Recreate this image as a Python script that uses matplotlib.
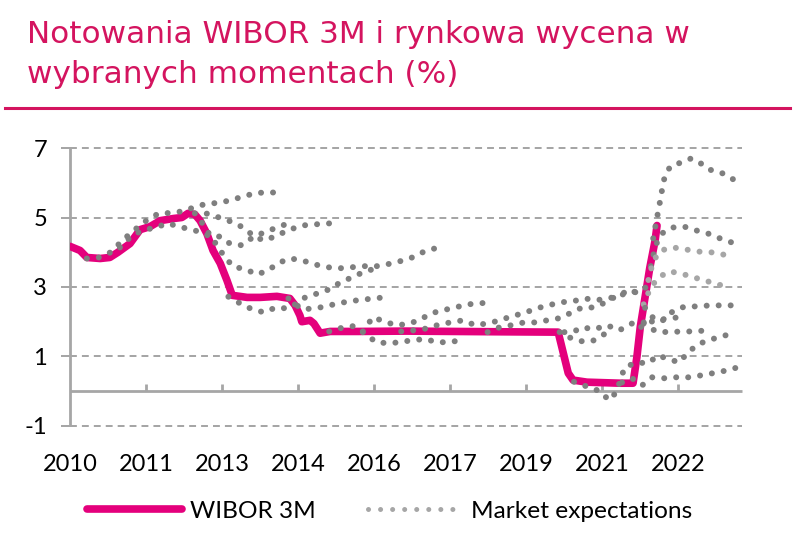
import numpy as np
import matplotlib.pyplot as plt
from matplotlib.lines import Line2D

plt.rcParams['font.family'] = ['Lato', 'DejaVu Sans']

# WIBOR 3M (decimal years, %)
wibor_x = [2010.0, 2010.21, 2010.35, 2010.63, 2010.83, 2011.0, 2011.25, 2011.46, 2011.67,
           2011.88, 2012.15, 2012.33, 2012.46, 2012.6, 2012.71, 2012.85, 2012.98, 2013.13,
           2013.27, 2013.38, 2013.69, 2013.96, 2014.31, 2014.58, 2014.69, 2014.79, 2014.83,
           2015.0, 2015.08, 2015.21, 2015.42, 2016.0, 2017.0, 2018.0, 2019.0, 2020.17,
           2020.38, 2020.48, 2020.77, 2021.46, 2021.73, 2021.81, 2021.88, 2021.98, 2022.08,
           2022.19, 2022.23]
wibor_y = [4.17, 4.05, 3.85, 3.82, 3.85, 4.0, 4.25, 4.65, 4.74,
           4.91, 4.97, 5.0, 5.12, 5.09, 4.91, 4.54, 4.05, 3.68,
           3.19, 2.76, 2.70, 2.70, 2.73, 2.67, 2.47, 2.18, 2.0,
           2.04, 1.95, 1.67, 1.72, 1.72, 1.73, 1.72, 1.71, 1.70,
           0.52, 0.32, 0.26, 0.23, 0.23, 0.98, 1.84, 2.70, 3.56,
           4.34, 4.77]

# market expectations at selected moments (decimal years, %)
exp_a_x = [2010.35, 2010.6, 2010.85, 2011.1, 2011.35, 2011.6, 2011.85, 2012.1, 2012.35,
           2012.6, 2012.85, 2013.1, 2013.35, 2013.6, 2013.85, 2014.05, 2014.3]
exp_a_y = [3.82, 3.85, 4.0, 4.35, 4.65, 4.92, 5.12, 5.13, 5.18,
           5.3, 5.4, 5.42, 5.5, 5.6, 5.7, 5.72, 5.72]
exp_b_x = [2012.6, 2012.88, 2013.17, 2013.4, 2013.65, 2013.85, 2014.06, 2014.31, 2014.54,
           2014.83, 2015.08, 2015.38, 2015.63]
exp_b_y = [5.12, 5.11, 4.97, 4.86, 4.68, 4.43, 4.34, 4.48, 4.63,
           4.77, 4.8, 4.83, 4.83]
exp_c_x = [2011.04, 2011.29, 2011.52, 2011.77, 2012.04, 2012.35, 2012.6, 2012.88, 2013.13,
           2013.33, 2013.58, 2013.81, 2014.04, 2014.31, 2014.54]
exp_c_y = [4.14, 4.48, 4.63, 4.71, 4.83, 4.71, 4.63, 4.48, 4.45,
           4.25, 4.2, 4.43, 4.57, 4.71, 4.83]
exp_d_x = [2012.75, 2012.88, 2013.06, 2013.23, 2013.4, 2013.67, 2013.9, 2014.13, 2014.35,
           2014.6, 2014.85, 2015.1, 2015.35, 2015.63, 2015.88, 2016.15, 2016.4, 2016.6,
           2016.85, 2017.13, 2017.35, 2017.6]
exp_d_y = [4.85, 4.57, 4.2, 3.85, 3.59, 3.5, 3.36, 3.48, 3.7,
           3.82, 3.76, 3.65, 3.57, 3.54, 3.57, 3.6, 3.6, 3.65,
           3.73, 3.85, 4.0, 4.11]
exp_e_x = [2013.3, 2013.54, 2013.79, 2014.04, 2014.29, 2014.54, 2014.75, 2014.9, 2015.17,
           2015.4, 2015.63, 2015.88, 2016.1, 2016.35]
exp_e_y = [2.72, 2.53, 2.36, 2.27, 2.41, 2.38, 2.55, 2.70, 2.82,
           2.93, 3.13, 3.28, 3.42, 3.53]
exp_f_x = [2014.55, 2014.83, 2015.08, 2015.33, 2015.58, 2015.85, 2016.1, 2016.38, 2016.63]
exp_f_y = [2.67, 2.36, 2.38, 2.44, 2.53, 2.59, 2.64, 2.67, 2.73]
exp_g_x = [2015.4, 2015.65, 2015.88, 2016.13]
exp_g_y = [1.72, 1.82, 1.87, 1.9]
exp_h_x = [2016.1, 2016.31, 2016.54, 2016.79, 2017.02, 2017.27, 2017.52, 2017.77, 2018.02,
           2018.29, 2018.54, 2018.79]
exp_h_y = [1.72, 2.13, 2.01, 1.9, 1.93, 2.04, 2.24, 2.33, 2.41,
           2.5, 2.53, 2.56]
exp_i_x = [2016.1, 2016.38, 2016.63, 2016.88, 2017.13, 2017.4, 2017.65, 2017.9, 2018.15]
exp_i_y = [1.7, 1.41, 1.38, 1.41, 1.47, 1.5, 1.41, 1.41, 1.47]
exp_j_x = [2016.9, 2017.15, 2017.4, 2017.65, 2017.92, 2018.19, 2018.44, 2018.69, 2018.96,
           2019.2, 2019.44, 2019.71, 2019.96, 2020.23, 2020.48, 2020.73, 2020.94, 2021.15,
           2021.4, 2021.63, 2021.88, 2022.08]
exp_j_y = [1.72, 1.75, 1.8, 1.9, 1.98, 2.04, 1.9, 1.95, 2.04,
           2.16, 2.24, 2.38, 2.47, 2.56, 2.59, 2.67, 2.62, 2.65,
           2.73, 2.84, 2.88, 3.07]
exp_k_x = [2018.7, 2018.95, 2019.2, 2019.46, 2019.69, 2019.94, 2020.19, 2020.46, 2020.67,
           2020.9, 2021.17, 2021.44, 2021.69, 2021.88]
exp_k_y = [1.7, 1.84, 1.9, 1.98, 1.98, 2.04, 2.1, 2.27, 2.41,
           2.41, 2.56, 2.79, 2.9, 2.79]
exp_l_x = [2020.3, 2020.5, 2020.67, 2020.92, 2021.19, 2021.44, 2021.71, 2021.96]
exp_l_y = [1.7, 1.72, 1.84, 1.78, 1.9, 1.75, 1.95, 1.98]
exp_m_x = [2020.2, 2020.4, 2020.63, 2020.88, 2021.1, 2021.3]
exp_m_y = [1.7, 1.55, 1.44, 1.44, 1.62, 1.75]
exp_n_x = [2022.15, 2022.23, 2022.27, 2022.31, 2022.35, 2022.4, 2022.52, 2022.73, 2022.94,
           2023.12, 2023.31, 2023.52, 2023.73, 2023.92]
exp_n_y = [4.4, 5.0, 5.29, 5.6, 5.92, 6.24, 6.49, 6.58, 6.70,
           6.58, 6.38, 6.32, 6.18, 6.0]
exp_o_x = [2022.1, 2022.2, 2022.33, 2022.54, 2022.79, 2023.04, 2023.29, 2023.54, 2023.79]
exp_o_y = [3.6, 4.2, 4.54, 4.71, 4.74, 4.63, 4.54, 4.40, 4.28]
exp_p_x = [2022.05, 2022.15, 2022.31, 2022.56, 2022.83, 2023.08, 2023.35, 2023.6, 2023.83]
exp_p_y = [3.2, 3.75, 4.05, 4.14, 4.08, 4.02, 4.0, 3.94, 3.79]
exp_q_x = [2021.95, 2022.1, 2022.27, 2022.48, 2022.73, 2022.98, 2023.23, 2023.48, 2023.75]
exp_q_y = [2.5, 3.0, 3.28, 3.45, 3.39, 3.28, 3.19, 3.07, 3.02]
exp_r_x = [2021.98, 2022.19, 2022.35, 2022.56, 2022.81, 2023.08, 2023.33, 2023.6, 2023.85]
exp_r_y = [2.4, 2.04, 2.04, 2.3, 2.44, 2.44, 2.47, 2.47, 2.47]
exp_s_x = [2021.9, 2022.1, 2022.25, 2022.46, 2022.75]
exp_s_y = [1.85, 2.0, 2.04, 2.1, 2.13]
exp_t_x = [2021.95, 2022.21, 2022.46, 2022.75, 2022.98, 2023.27]
exp_t_y = [1.95, 1.72, 1.70, 1.72, 1.72, 1.75]
exp_u_x = [2020.5, 2020.8, 2021.04, 2021.23, 2021.4, 2021.46, 2021.56, 2021.81, 2022.04,
           2022.25, 2022.48, 2022.69, 2022.88, 2023.08, 2023.31, 2023.58, 2023.83]
exp_u_y = [0.27, 0.12, 0.0, -0.26, 0.0, 0.32, 0.69, 0.83, 0.8,
           1.03, 0.92, 0.83, 1.12, 1.35, 1.47, 1.58, 1.67]
exp_v_x = [2021.5, 2021.71, 2021.92, 2022.13, 2022.35, 2022.63, 2022.88, 2023.17, 2023.4,
           2023.69, 2023.92]
exp_v_y = [0.25, 0.37, 0.17, 0.4, 0.37, 0.4, 0.4, 0.46, 0.52,
           0.6, 0.69]

tick_labels = ['2010', '2011', '2013', '2014', '2016', '2017', '2019', '2021', '2022']
y_ticks = [-1, 1, 3, 5, 7]

pink = '#E4007C'
title_pink = '#D4145F'
dark = '#7F7F7F'
light = '#A6A6A6'

expectations = [
    (exp_a_x, exp_a_y, dark), (exp_b_x, exp_b_y, dark), (exp_c_x, exp_c_y, dark),
    (exp_d_x, exp_d_y, dark), (exp_e_x, exp_e_y, dark), (exp_f_x, exp_f_y, dark),
    (exp_g_x, exp_g_y, dark), (exp_h_x, exp_h_y, dark), (exp_i_x, exp_i_y, dark),
    (exp_j_x, exp_j_y, dark), (exp_k_x, exp_k_y, dark), (exp_l_x, exp_l_y, dark),
    (exp_m_x, exp_m_y, dark), (exp_n_x, exp_n_y, dark), (exp_o_x, exp_o_y, dark),
    (exp_p_x, exp_p_y, light), (exp_q_x, exp_q_y, light), (exp_r_x, exp_r_y, dark),
    (exp_s_x, exp_s_y, dark), (exp_t_x, exp_t_y, dark), (exp_u_x, exp_u_y, dark),
    (exp_v_x, exp_v_y, dark),
]

fig = plt.figure(figsize=(8, 5.4), dpi=100)
ax = fig.add_axes([0.0875, 0.2093, 0.84, 0.5185])
ax.set_xlim(2010, 2024)
ax.set_ylim(-1.03, 7.03)
for s in ax.spines.values():
    s.set_visible(False)

# dashed horizontal grid
ax.set_yticks(y_ticks, labels=[str(v) for v in y_ticks])
ax.yaxis.grid(True, linestyle=(0, (4.5, 3.3)), color='#8C8C8C', linewidth=1.1)
ax.tick_params(axis='y', length=6.5, width=1.1, color='#8C8C8C', pad=10,
               labelsize=17)

# axis lines: left edge and zero line, ticks pointing up
ax.vlines(2010, -1, 7, color=light, lw=2, clip_on=False, zorder=2)
ax.hlines(0, 2010, 2024, color=light, lw=2, clip_on=False, zorder=2)
tick_x = 2010 + np.arange(len(tick_labels)) * 19 / 12
ax.vlines(tick_x[1:], 0, 0.2, color=light, lw=2, zorder=2)
ax.set_xticks(tick_x, labels=tick_labels)
ax.tick_params(axis='x', length=0, pad=19.5, labelsize=17)

ax.plot(wibor_x, wibor_y, color=pink, lw=5.5, solid_capstyle='round',
        solid_joinstyle='round', zorder=3)
for xs, ys, c in expectations:
    ax.plot(xs, ys, color=c, lw=4.3, linestyle=(0, (0.01, 2.0)),
            dash_capstyle='round', zorder=4, clip_on=False)

# title and rule
fig.text(27 / 800, 1 - 43 / 540, 'Notowania WIBOR 3M i rynkowa wycena w',
         color=title_pink, fontsize=22.4, family='DejaVu Sans', va='baseline')
fig.text(27 / 800, 1 - 83 / 540, 'wybranych momentach (%)',
         color=title_pink, fontsize=22.4, family='DejaVu Sans', va='baseline')
fig.add_artist(Line2D([5 / 800, 790 / 800], [1 - 108 / 540, 1 - 108 / 540],
                      color=title_pink, lw=2.2))

handles = [Line2D([], [], color=pink, lw=5.5, solid_capstyle='round'),
           Line2D([], [], color=light, lw=3.6, linestyle=(0, (0.01, 2.4)),
                  dash_capstyle='round')]
fig.legend(handles, ['WIBOR 3M', 'Market expectations'], loc='center',
           bbox_to_anchor=(0.487, 1 - 511 / 540), ncol=2, frameon=False,
           handlelength=3.9, handletextpad=0.35, columnspacing=2.1,
           fontsize=17.6)

fig.savefig('out.png', dpi=100)
